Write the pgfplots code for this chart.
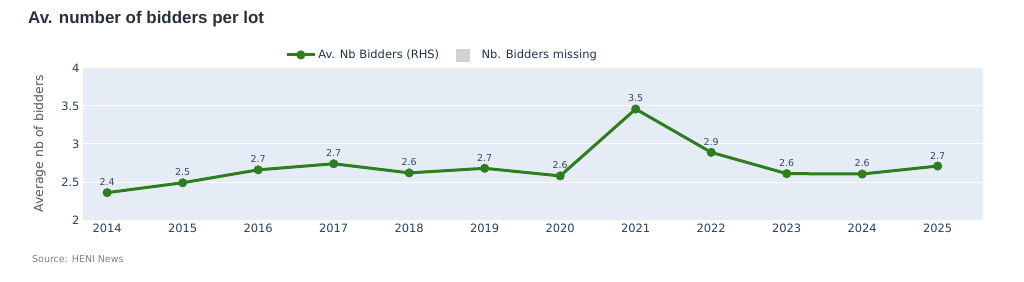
\documentclass[border=0pt]{standalone}
\usepackage{pgfplots}
\pgfplotsset{compat=1.18}
\usepackage{fontspec}
\setmainfont{DejaVu Sans}
\newfontfamily\titlefont{Liberation Sans}
\definecolor{bgc}{RGB}{229,236,246}
\definecolor{lgreen}{RGB}{46,125,30}
\definecolor{tickc}{RGB}{42,63,95}
\definecolor{labc}{RGB}{80,90,105}
\definecolor{titc}{RGB}{40,48,60}
\definecolor{srcc}{RGB}{130,130,130}
\definecolor{missc}{RGB}{210,210,210}
\pgfplotsset{
  widelineleg/.style={legend image code/.code={\draw[##1, mark repeat=2, mark phase=2] plot coordinates {(0bp,0bp) (14bp,0bp) (28bp,0bp)};}},
  squareleg/.style={legend image code/.code={\path (0bp,0bp) (23bp,0bp); \fill[missc] (0bp,-6bp) rectangle (12.5bp,6bp);}}
}
\begin{document}
\begin{tikzpicture}[x=1bp,y=1bp]
\useasboundingbox (0,0) rectangle (1024,281);
\node[anchor=base west, font=\titlefont\bfseries\fontsize{17}{19}\selectfont, text=titc, inner sep=0] at (28,258) {Av. number of bidders per lot};
\node[anchor=base west, font=\fontsize{9.5}{11}\selectfont, text=srcc, inner sep=0] at (32,19) {Source: HENI News};
\begin{axis}[
  at={(83bp,61bp)}, anchor=south west,
  scale only axis, width=900bp, height=152bp,
  xmin=2013.68, xmax=2025.6, ymin=2, ymax=4,
  axis background/.style={fill=bgc},
  axis line style={draw=none},
  major tick length=0pt,
  xtick={2014,...,2025},
  xticklabel style={/pgf/number format/1000 sep={}},
  ytick={2,2.5,3,3.5,4},
  yticklabels={2,2.5,3,3.5,4},
  ymajorgrids, grid style={white, line width=1bp},
  tick label style={font=\fontsize{11.5}{13}\selectfont, text=tickc},
  /pgf/number format/assume math mode=true,
  ylabel={Average nb of bidders},
  ylabel style={at={(axis description cs:-0.048,0.5)}, anchor=center, font=\fontsize{12.5}{14}\selectfont, text=labc},
  legend columns=2,
  legend style={at={(axis description cs:0.399,1.086)}, anchor=center, draw=none, fill=none,
    font=\fontsize{11.5}{13}\selectfont, text=tickc!80!black,
    /tikz/every odd column/.append style={column sep=0bp},
    /tikz/every even column/.append style={column sep=15bp}},
  clip=false,
]
\addplot[color=lgreen, line width=3bp, mark=*, mark size=4.3bp, mark options={solid, fill=lgreen, draw=lgreen, line width=0.4bp},
  nodes near coords, point meta=explicit symbolic,
  every node near coord/.append style={font=\fontsize{9.5}{11}\selectfont, text=tickc!85!gray, yshift=3.5bp},
  widelineleg]
coordinates {
(2014,2.36) [2.4]
(2015,2.49) [2.5]
(2016,2.66) [2.7]
(2017,2.74) [2.7]
(2018,2.62) [2.6]
(2019,2.68) [2.7]
(2020,2.58) [2.6]
(2021,3.46) [3.5]
(2022,2.89) [2.9]
(2023,2.61) [2.6]
(2024,2.605) [2.6]
(2025,2.71) [2.7]
};
\addlegendentry{Av. Nb Bidders (RHS)}
\addlegendimage{squareleg}
\addlegendentry{Nb. Bidders missing}
\end{axis}
\end{tikzpicture}
\end{document}
